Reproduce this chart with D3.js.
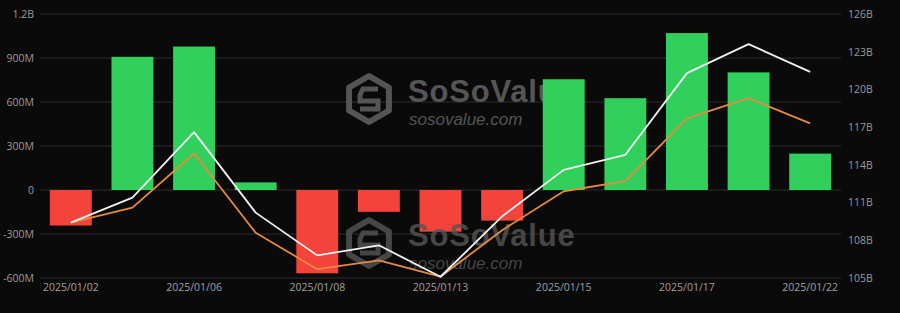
<!DOCTYPE html>
<html><head><meta charset="utf-8">
<script src="https://cdn.jsdelivr.net/npm/d3@7"></script>
<style>
html,body{margin:0;padding:0;background:#0a0a0a;}
svg{display:block;}
</style></head>
<body>
<svg id="chart" width="900" height="313"></svg>
<script>
const categories = ["2025/01/02","2025/01/03","2025/01/06","2025/01/07","2025/01/08","2025/01/10","2025/01/13","2025/01/14","2025/01/15","2025/01/16","2025/01/17","2025/01/21","2025/01/22"];
const netInflow = [-242e6, 908e6, 978e6, 52e6, -568e6, -149e6, -284e6, -209e6, 755e6, 626e6, 1070e6, 802e6, 248e6];
const totalNetAssets = [109.4, 111.4, 116.6, 110.2, 106.8, 107.6, 105.1, 109.9, 113.6, 114.8, 121.3, 123.6, 121.4];
const secondLine = [109.4, 110.6, 114.9, 108.6, 105.7, 106.4, 105.1, 108.8, 111.9, 112.7, 117.7, 119.3, 117.3];
const leftTicks = [-600e6, -300e6, 0, 300e6, 600e6, 900e6, 1200e6];
const leftTickLabels = ["-600M","-300M","0","300M","600M","900M","1.2B"];
const rightTicks = [105, 108, 111, 114, 117, 120, 123, 126];
const rightTickLabels = ["105B","108B","111B","114B","117B","120B","123B","126B"];
const xLabelCats = ["2025/01/02","2025/01/06","2025/01/08","2025/01/13","2025/01/15","2025/01/17","2025/01/22"];

const svg = d3.select("#chart");
const L = 40, R = 841, T = 14, B = 278;
const font = "'Open Sans', 'Noto Sans', sans-serif";

svg.append("rect").attr("width",900).attr("height",313).attr("fill","#0a0a0a");

const x = d3.scaleBand().domain(categories).range([L, R]).paddingInner(0.32).paddingOuter(0.16);
const yL = d3.scaleLinear().domain([-600e6, 1200e6]).range([B, T]);
const yR = d3.scaleLinear().domain([105, 126]).range([B, T]);

// grid
svg.append("g").selectAll("line").data(leftTicks).join("line")
  .attr("x1", L).attr("x2", R)
  .attr("y1", d => yL(d)).attr("y2", d => yL(d))
  .attr("stroke", "#2c2c2c").attr("stroke-width", 1);

// left axis
const axL = d3.axisLeft(yL).tickValues(leftTicks).tickFormat((d,i) => leftTickLabels[i]).tickSize(0).tickPadding(6);
const gL = svg.append("g").attr("transform", `translate(${L},0)`).call(axL);
gL.select(".domain").remove();
gL.selectAll("text").attr("fill","#9a9a9a").style("font-family", font).style("font-size","10.5px");

// right axis
const axR = d3.axisRight(yR).tickValues(rightTicks).tickFormat((d,i) => rightTickLabels[i]).tickSize(0).tickPadding(7);
const gR = svg.append("g").attr("transform", `translate(${R},0)`).call(axR);
gR.select(".domain").remove();
gR.selectAll("text").attr("fill","#9a9a9a").style("font-family", font).style("font-size","10.5px");

// x axis
const axX = d3.axisBottom(x).tickValues(xLabelCats).tickSize(0).tickPadding(6);
const gX = svg.append("g").attr("transform", `translate(0,${B})`).call(axX);
gX.select(".domain").remove();
gX.selectAll("text").attr("fill","#a0a0a0").style("font-family", font).style("font-size","10.5px");

// watermark function
function watermark(cx, cy, tx, ty, opacity) {
  const g = svg.append("g").attr("opacity", opacity);
  const r = 23;
  const hex = d3.range(6).map(i => {
    const a = Math.PI/3*i - Math.PI/2;
    return [cx + r*Math.cos(a), cy + r*Math.sin(a)];
  });
  g.append("path").attr("d", "M" + hex.join("L") + "Z")
    .attr("fill","none").attr("stroke","#555").attr("stroke-width",6).attr("stroke-linejoin","round");
  g.append("path")
    .attr("d", `M${cx+9},${cy-10} L${cx-6},${cy-10} L${cx-9},${cy-4} L${cx-9},${cy+2} L${cx+9},${cy+2} L${cx+9},${cy+10} L${cx-9},${cy+10}`)
    .attr("fill","none").attr("stroke","#555").attr("stroke-width",5);
  g.append("text").attr("x", tx).attr("y", ty).text("SoSoValue")
    .attr("fill","#555").style("font-family","'Liberation Sans', Arial, sans-serif")
    .style("font-weight","700").style("font-size","31px").attr("letter-spacing","0.8");
  g.append("text").attr("x", tx + 1).attr("y", ty + 23).text("sosovalue.com")
    .attr("fill","#555").style("font-family","'Liberation Sans', Arial, sans-serif")
    .style("font-style","italic").style("font-size","17px");
}

watermark(369, 99, 408, 102, 1);

// bars
svg.append("g").selectAll("rect").data(categories).join("rect")
  .attr("x", d => x(d))
  .attr("width", x.bandwidth())
  .attr("y", (d,i) => netInflow[i] >= 0 ? yL(netInflow[i]) : yL(0))
  .attr("height", (d,i) => Math.abs(yL(netInflow[i]) - yL(0)))
  .attr("fill", (d,i) => netInflow[i] >= 0 ? "#31d05c" : "#f4433a");

watermark(369, 243, 408, 246, 0.8);

// lines
const lineW = d3.line().x((d,i) => x(categories[i]) + x.bandwidth()/2).y(d => yR(d));
svg.append("path").datum(secondLine).attr("d", lineW)
  .attr("fill","none").attr("stroke","#e58a3f").attr("stroke-width",1.8).attr("stroke-linejoin","round");
svg.append("path").datum(totalNetAssets).attr("d", lineW)
  .attr("fill","none").attr("stroke","#f2f2f2").attr("stroke-width",1.8).attr("stroke-linejoin","round");
</script>
</body></html>
